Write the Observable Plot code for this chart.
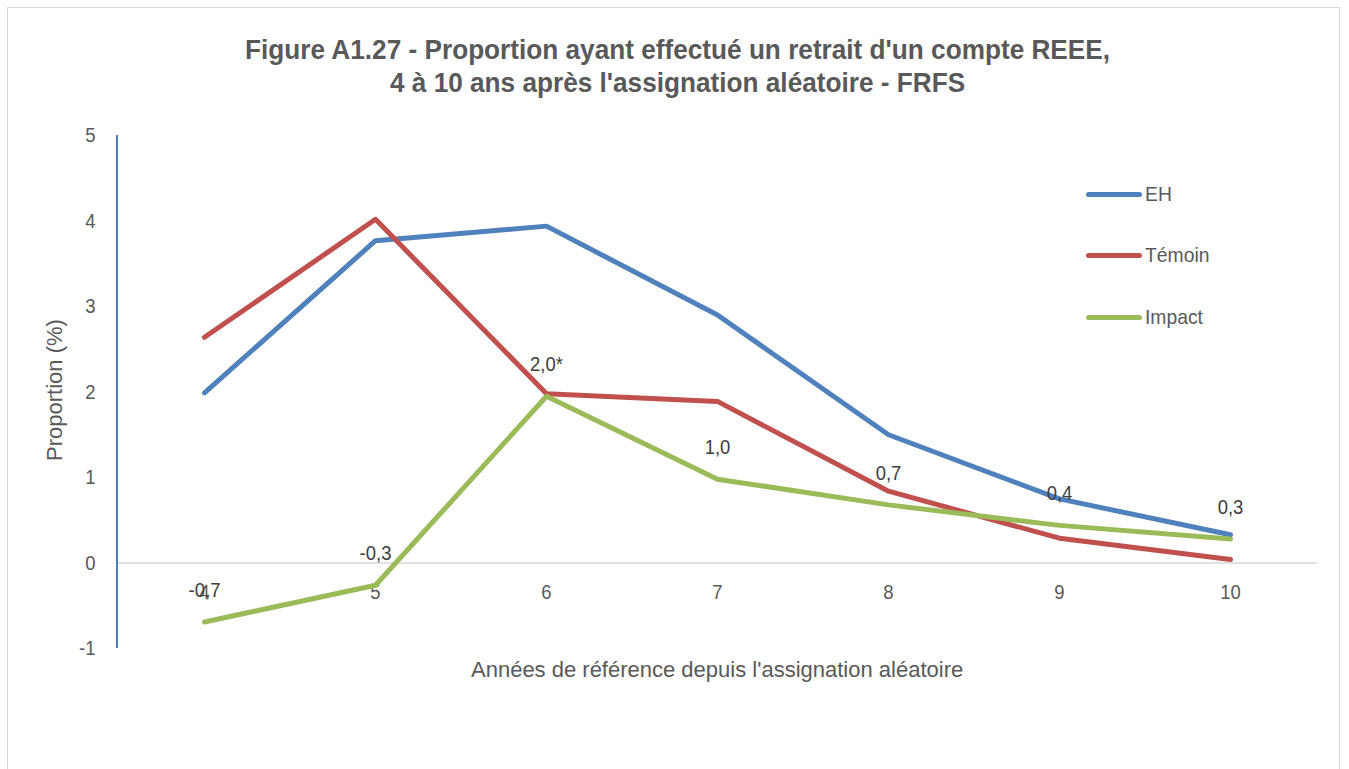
<!DOCTYPE html>
<html>
<head>
<meta charset="utf-8">
<script src="https://cdn.jsdelivr.net/npm/d3@7"></script>
<script src="https://cdn.jsdelivr.net/npm/@observablehq/plot@0.6"></script>
<style>
  html, body { margin: 0; padding: 0; background: #fff; }
  #wrap { position: relative; width: 1349px; height: 769px; overflow: hidden;
    font-family: "Liberation Sans", Arial, sans-serif; color: #595959; }
  #frame { position: absolute; left: 7px; top: 7px; width: 1333px; height: 800px; border: 1px solid #d9d9d9; box-sizing: border-box; }
  .narrow { position: absolute; white-space: nowrap; }
  #title { font-size: 28px; font-weight: bold; line-height: 33px; color: #595959; text-align: center; }
  #ylab { font-size: 22px; }
  #xlab { font-size: 22px; }
  #chart { position: absolute; left: 0; top: 0; }
  .leg { position: absolute; left: 1086px; height: 24px; display: flex; align-items: center; font-size: 21px; color: #595959; }
  .leg span.sw { display: inline-block; width: 56px; height: 5px; border-radius: 3px; margin-right: 3px; }
  .leg span.tx { display: inline-block; transform: scaleX(0.92); transform-origin: left center; }
</style>
</head>
<body>
<div id="wrap">
  <div id="frame"></div>
  <div id="chart"></div>
  <div id="title" class="narrow">Figure A1.27 - Proportion ayant effectué un retrait d'un compte REEE,<br>4 à 10 ans après l'assignation aléatoire - FRFS</div>
  <div id="ylab" class="narrow">Proportion (%)</div>
  <div id="xlab" class="narrow">Années de référence depuis l'assignation aléatoire</div>
  <div id="legend"></div>
</div>
<script>
const years = [4, 5, 6, 7, 8, 9, 10];
const eh = [1.99, 3.77, 3.94, 2.90, 1.50, 0.75, 0.33];
const temoin = [2.64, 4.02, 1.98, 1.89, 0.84, 0.29, 0.04];
const impact = [-0.69, -0.26, 1.95, 0.98, 0.68, 0.44, 0.28];
const impactLabels = ["-0,7", "-0,3", "2,0*", "1,0", "0,7", "0,4", "0,3"];
const yTicks = [-1, 0, 1, 2, 3, 4, 5];
const seriesNames = ["EH", "Témoin", "Impact"];
const seriesColors = ["#4f81bd", "#c0504d", "#9bbb59"];

const seriesValues = [eh, temoin, impact];
const rows = [];
seriesNames.forEach((s, i) => years.forEach((yr, j) => rows.push({series: s, year: yr, value: seriesValues[i][j]})));
const impactRows = years.map((yr, j) => ({year: yr, value: impact[j], label: impactLabels[j]}));

const SVG_NARROW = 0.88;
const font = '"Liberation Sans", Arial, sans-serif';

// left axis line drawn from the plot's own dimensions
const leftAxisLine = (index, scales, values, dim) => {
  const ns = "http://www.w3.org/2000/svg";
  const l = document.createElementNS(ns, "line");
  l.setAttribute("x1", dim.marginLeft); l.setAttribute("x2", dim.marginLeft);
  l.setAttribute("y1", dim.marginTop); l.setAttribute("y2", dim.height - dim.marginBottom);
  l.setAttribute("stroke", "#4a7ebb"); l.setAttribute("stroke-width", 2);
  return l;
};

const plot = Plot.plot({
  width: 1349,
  height: 769,
  marginLeft: 117,
  marginRight: 32,
  marginTop: 135,
  marginBottom: 121,
  style: {fontFamily: font, fontSize: "21px", color: "#595959", background: "transparent"},
  x: {type: "point", domain: years, padding: 0.5, axis: null},
  y: {domain: [-1, 5], axis: null},
  color: {domain: seriesNames, range: seriesColors},
  marks: [
    Plot.ruleY([0], {stroke: "#d9d9d9", strokeWidth: 1.5}),
    leftAxisLine,
    Plot.text(yTicks, {frameAnchor: "left", y: d => d, text: d => String(d), dx: -22, textAnchor: "end", fill: "#595959", fontSize: 21}),
    Plot.text(years, {x: d => d, y: 0, text: d => String(d), dy: 29, fill: "#595959", fontSize: 21}),
    Plot.line(rows, {x: "year", y: "value", z: "series", stroke: "series", strokeWidth: 5, strokeLinecap: "round", strokeLinejoin: "round"}),
    Plot.text(impactRows, {x: "year", y: "value", text: "label", dy: -32, fill: "#404040", fontSize: 21})
  ]
});
document.getElementById("chart").appendChild(plot);

// condense SVG texts horizontally (Arial Narrow look)
plot.querySelectorAll("text").forEach(t => {
  const x = +(t.getAttribute("x") || 0);
  const tr = t.getAttribute("transform") || "";
  t.setAttribute("transform", `${tr} translate(${x},0) scale(${SVG_NARROW},1) translate(${-x},0)`);
});

// position condensed HTML texts by centre
function place(id, cx, cy, rot, sx) {
  const el = document.getElementById(id);
  const w = el.offsetWidth, h = el.offsetHeight;
  el.style.left = (cx - w / 2) + "px";
  el.style.top = (cy - h / 2) + "px";
  el.style.transform = (rot ? `rotate(${rot}deg) ` : "") + `scaleX(${sx})`;
  el.style.transformOrigin = "center center";
}
place("title", 677, 66, 0, 0.935);
place("ylab", 55, 390, -90, 1.0);
place("xlab", 717, 670, 0, 1.0);

const legend = document.getElementById("legend");
const legTops = [182, 243, 305];
seriesNames.forEach((s, i) => {
  const d = document.createElement("div");
  d.className = "leg";
  d.style.top = legTops[i] + "px";
  d.innerHTML = `<span class="sw" style="background:${seriesColors[i]}"></span><span class="tx">${s}</span>`;
  legend.appendChild(d);
});
</script>
</body>
</html>
